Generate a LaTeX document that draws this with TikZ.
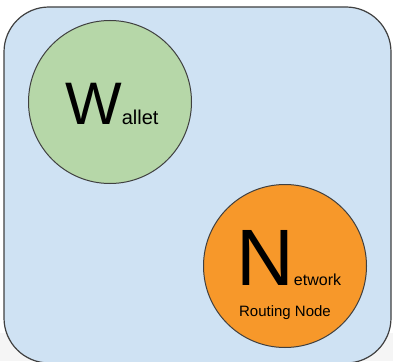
\documentclass[tikz,border=0pt]{standalone}
\usepackage{fontspec}
\setmainfont{Liberation Sans}
\definecolor{boxblue}{HTML}{CFE2F3}
\definecolor{walletgreen}{HTML}{B6D7A8}
\definecolor{nodeorange}{HTML}{F7982A}
\definecolor{edge}{HTML}{404040}
\tikzset{
    frame/.style={draw=edge, line width=1.2pt, fill=boxblue, rounded corners=45pt},
    bubble/.style={circle, draw=edge, line width=1pt, minimum size=163pt, inner sep=0},
    big/.style={inner sep=0, anchor=base west}
}

\begin{document}
\begin{tikzpicture}[x=1pt, y=-1pt]
    \useasboundingbox (0,0) rectangle (393,361);
    \fill[gray!8] (0,333) rectangle (393,361);
    \draw[frame] (4,7) rectangle (391,363);
    \node[bubble, fill=walletgreen] (wallet) at (110,102) {};
    \node[bubble, fill=nodeorange] (network) at (285,266) {};
    \node[big] (wlabel) at (65,124)
        {\fontsize{60}{60}\selectfont W\fontsize{20}{20}\selectfont allet};
    \node[big] (nlabel) at (236,285)
        {\fontsize{80}{80}\selectfont N\fontsize{16}{16}\selectfont etwork};
    \node[inner sep=0, font=\fontsize{15}{15}\selectfont] (routing) at (285,313) {Routing Node};
\end{tikzpicture}
\end{document}
